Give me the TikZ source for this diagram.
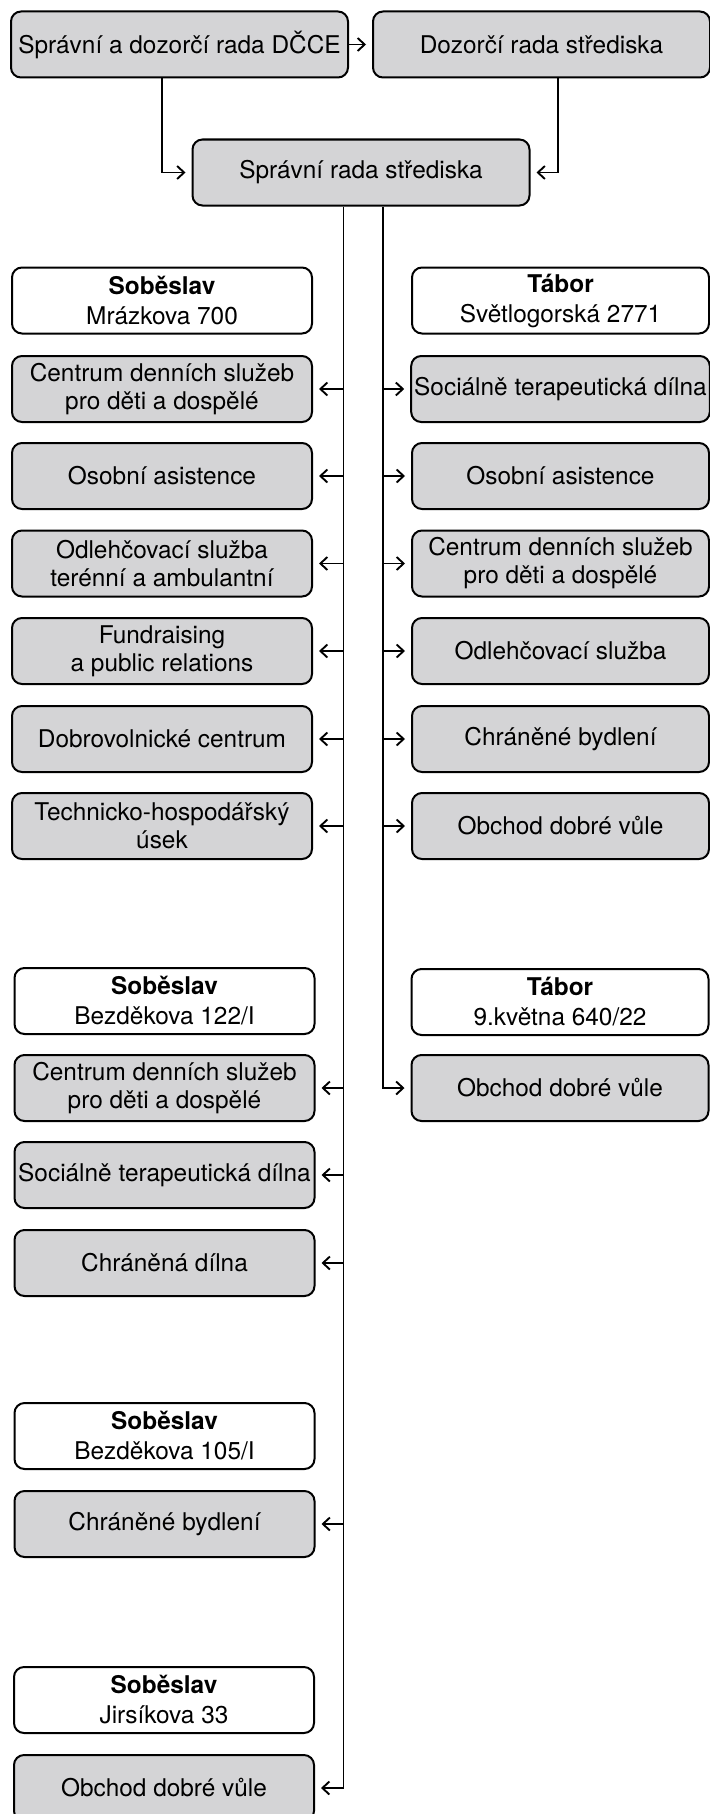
\documentclass[tikz,border=0pt]{standalone}
\usepackage{fontspec}
\setmainfont{TeX Gyre Heros}
\usetikzlibrary{arrows.meta}
\definecolor{boxgray}{RGB}{212,212,214}
\begin{document}
\begin{tikzpicture}[x=0.5pt,y=-0.5pt,
  unitbox/.style={draw,line width=1pt,rounded corners=5pt,fill=boxgray,minimum height=33pt,inner sep=1.5pt,align=center,font=\fontsize{12.2}{14}\selectfont},
  sitebox/.style={unitbox,fill=white,font=\fontsize{12.2}{15}\selectfont},
  topbox/.style={minimum width=168.5pt},
  lbox/.style={minimum width=150pt},
  rbox/.style={minimum width=148.5pt},
  conn/.style={line width=0.95pt,-{Straight Barb[length=3.5pt,width=6.5pt]},shorten >=3pt}]
 \useasboundingbox (0,0) rectangle (710,1814);
 % top
 \node[unitbox,topbox] (dcce) at (179.5,44.5) {Správní a dozorčí rada DČCE};
 \node[unitbox,topbox] (dozor) at (541.5,44.5) {Dozorčí rada střediska};
 \node[unitbox,topbox] (sprava) at (361,172.5) {Správní rada střediska};
 \coordinate (lt) at (343.5,0);
 \coordinate (rt) at (383,0);
 % Sobeslav, Mrazkova 700
 \node[sitebox,lbox] (hs1) at (162,300.5) {\textbf{Soběslav}\\Mrázkova 700};
 \node[unitbox,lbox] (l1) at (162,389) {Centrum denních služeb\\pro děti a dospělé};
 \node[unitbox,lbox] (l2) at (162,476) {Osobní asistence};
 \node[unitbox,lbox] (l3) at (162,563.5) {Odlehčovací služba\\terénní a ambulantní};
 \node[unitbox,lbox] (l4) at (162,651) {Fundraising\\a public relations};
 \node[unitbox,lbox] (l5) at (162,739) {Dobrovolnické centrum};
 \node[unitbox,lbox] (l6) at (162,826) {Technicko-hospodářský\\úsek};
 % Tabor, Svetlogorska 2771
 \node[sitebox,rbox] (ht1) at (560.5,300.5) {\textbf{Tábor}\\Světlogorská 2771};
 \node[unitbox,rbox] (r1) at (560.5,389) {Sociálně terapeutická dílna};
 \node[unitbox,rbox] (r2) at (560.5,476) {Osobní asistence};
 \node[unitbox,rbox] (r3) at (560.5,563.5) {Centrum denních služeb\\pro děti a dospělé};
 \node[unitbox,rbox] (r4) at (560.5,651) {Odlehčovací služba};
 \node[unitbox,rbox] (r5) at (560.5,739) {Chráněné bydlení};
 \node[unitbox,rbox] (r6) at (560.5,826) {Obchod dobré vůle};
 % Sobeslav, Bezdekova 122/I
 \node[sitebox,lbox] (hs2) at (164.5,1001) {\textbf{Soběslav}\\Bezděkova 122/I};
 \node[unitbox,lbox] (m1) at (164.5,1088) {Centrum denních služeb\\pro děti a dospělé};
 \node[unitbox,lbox] (m2) at (164.5,1175) {Sociálně terapeutická dílna};
 \node[unitbox,lbox] (m3) at (164.5,1263) {Chráněná dílna};
 % Tabor, 9.kvetna
 \node[sitebox,rbox] (ht2) at (560,1002) {\textbf{Tábor}\\9.května 640/22};
 \node[unitbox,rbox] (r7) at (560,1088) {Obchod dobré vůle};
 % Sobeslav, Bezdekova 105/I
 \node[sitebox,lbox] (hs3) at (164.5,1436) {\textbf{Soběslav}\\Bezděkova 105/I};
 \node[unitbox,lbox] (n1) at (164.5,1524) {Chráněné bydlení};
 % Sobeslav, Jirsikova 33
 \node[sitebox,lbox] (hs4) at (164,1700) {\textbf{Soběslav}\\Jirsíkova 33};
 \node[unitbox,lbox] (j1) at (164,1788) {Obchod dobré vůle};
 % connectors
 \draw[conn] (dcce.east) -- (dozor.west);
 \draw[conn] ([xshift=-8.75pt]dcce.south) -- ([xshift=-8.75pt]dcce.south |- sprava.west) -- (sprava.west);
 \draw[conn] ([xshift=8.25pt]dozor.south) -- ([xshift=8.25pt]dozor.south |- sprava.east) -- (sprava.east);
 \draw[conn] (sprava.south -| lt) -- (lt |- j1.east) -- (j1.east);
 \draw[conn] (sprava.south -| rt) -- (rt |- r7.west) -- (r7.west);
 \foreach \n in {l1,l2,l3,l4,l5,l6,m1,m2,m3,n1}
  \draw[conn] (lt |- \n.east) -- (\n.east);
 \foreach \n in {r1,r2,r3,r4,r5,r6}
  \draw[conn] (rt |- \n.west) -- (\n.west);
\end{tikzpicture}
\end{document}
